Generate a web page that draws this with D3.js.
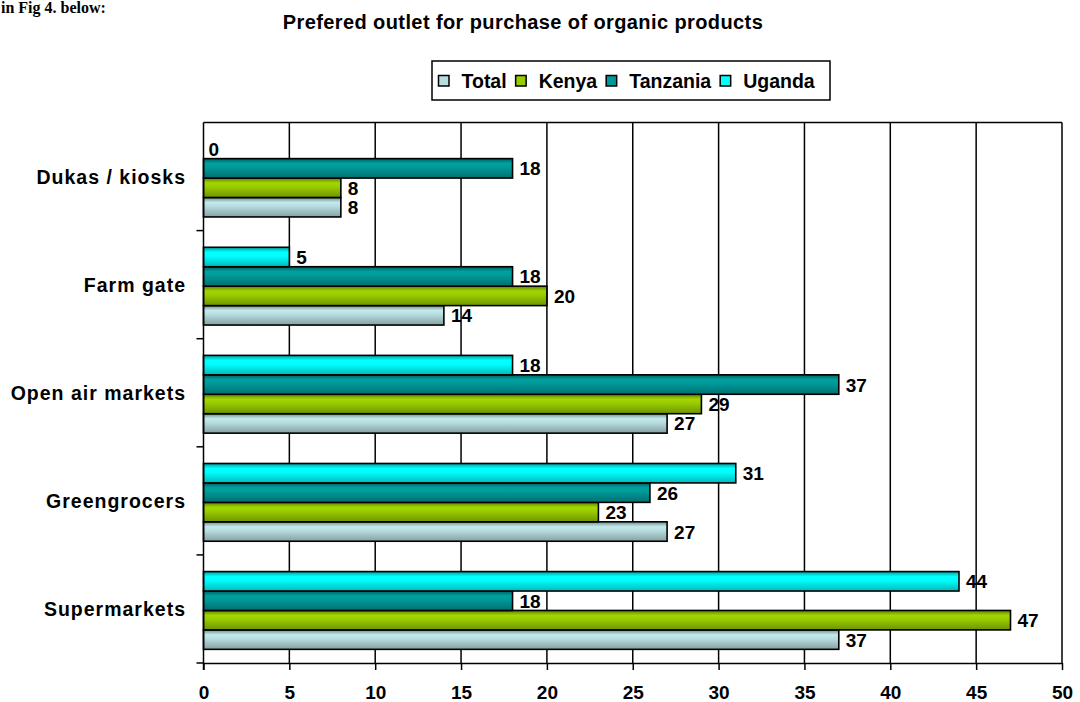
<!DOCTYPE html>
<html>
<head>
<meta charset="utf-8">
<script src="https://cdn.jsdelivr.net/npm/d3@7/dist/d3.min.js"></script>
<style>
  html, body { margin: 0; padding: 0; background: #fff; }
  svg { display: block; font-family: "Liberation Sans", Arial, sans-serif; }
</style>
</head>
<body>
<svg id="chart" width="1080" height="702"></svg>
<script>
// Outlets, listed top to bottom
const categories = ["Dukas / kiosks", "Farm gate", "Open air markets", "Greengrocers", "Supermarkets"];
// Series in legend order
const seriesNames = ["Total", "Kenya", "Tanzania", "Uganda"];
const seriesColors = ["#b8dde0", "#99cc00", "#009999", "#00ffff"];
// Percentages per outlet, one array per series
const totalValues    = [8, 14, 27, 27, 37];
const kenyaValues    = [8, 20, 29, 23, 47];
const tanzaniaValues = [18, 18, 37, 26, 18];
const ugandaValues   = [0, 5, 18, 31, 44];
const xTicks = [0, 5, 10, 15, 20, 25, 30, 35, 40, 45, 50];

const seriesValues = [totalValues, kenyaValues, tanzaniaValues, ugandaValues];
const titleText = "Prefered outlet for purchase of organic products";

const svg = d3.select("#chart");

// End of the preceding paragraph line
svg.append("text")
  .attr("x", 1).attr("y", 13)
  .attr("font-family", "'Liberation Serif', 'Times New Roman', serif")
  .attr("font-weight", "bold").attr("font-size", 16)
  .text("in Fig 4. below:");

const plot = { left: 203.5, right: 1062, top: 122.5, bottom: 663 };

const x = d3.scaleLinear().domain([0, 50]).range([plot.left, plot.right]);
const y = d3.scaleBand().domain(categories).range([plot.top, plot.bottom]).padding(0);
// Within a band, the top bar is Uganda and the bottom one is Total
const inner = d3.scaleBand()
  .domain(seriesNames.slice().reverse())
  .range([0, y.bandwidth()])
  .paddingInner(0).paddingOuter(0.78).align(0.55);

// Cylinder-like shading for each series
const defs = svg.append("defs");
seriesNames.forEach((name, i) => {
  const base = d3.color(seriesColors[i]);
  const g = defs.append("linearGradient")
    .attr("id", "grad-" + i).attr("x1", 0).attr("x2", 0).attr("y1", 0).attr("y2", 1);
  g.append("stop").attr("offset", "0%").attr("stop-color", base.darker(1.3));
  g.append("stop").attr("offset", "25%").attr("stop-color", base.brighter(0.15));
  g.append("stop").attr("offset", "45%").attr("stop-color", base);
  g.append("stop").attr("offset", "100%").attr("stop-color", base.darker(0.9));
});

// Vertical gridlines
svg.append("g").selectAll("line")
  .data(xTicks.filter(t => t > 0))
  .join("line")
  .attr("x1", d => x(d)).attr("x2", d => x(d))
  .attr("y1", plot.top).attr("y2", plot.bottom)
  .attr("stroke", "#000").attr("stroke-width", 1.5);

// Top border of the plot area
svg.append("line")
  .attr("x1", plot.left).attr("x2", plot.right)
  .attr("y1", plot.top).attr("y2", plot.top)
  .attr("stroke", "#000").attr("stroke-width", 1.5);

// Bars
const rows = [];
categories.forEach((c, ci) => {
  seriesNames.forEach((s, si) => {
    rows.push({ cat: c, series: s, si: si, value: seriesValues[si][ci] });
  });
});

const barG = svg.append("g");
barG.selectAll("rect")
  .data(rows.filter(d => d.value > 0))
  .join("rect")
  .attr("x", x(0))
  .attr("y", d => y(d.cat) + inner(d.series))
  .attr("width", d => x(d.value) - x(0))
  .attr("height", inner.bandwidth())
  .attr("fill", d => `url(#grad-${d.si})`)
  .attr("stroke", "#000").attr("stroke-width", 1.6);

// Value labels
barG.selectAll("text")
  .data(rows)
  .join("text")
  .attr("x", d => x(d.value) + (d.value > 0 ? 7 : 5))
  .attr("y", d => y(d.cat) + inner(d.series) + inner.bandwidth() / 2 + 7)
  .attr("font-size", 19).attr("font-weight", "bold")
  .text(d => d.value);

// X axis
const xAxis = svg.append("g")
  .attr("transform", `translate(0,${plot.bottom})`)
  .call(d3.axisBottom(x).tickValues(xTicks).tickSize(7).tickSizeOuter(0));
xAxis.select(".domain").attr("stroke", "#000").attr("stroke-width", 1.5);
xAxis.selectAll(".tick line").attr("stroke", "#000").attr("stroke-width", 1.5);
xAxis.selectAll(".tick text")
  .attr("y", 36).attr("dy", 0)
  .attr("font-size", 19).attr("font-weight", "bold")
  .attr("font-family", "'Liberation Sans', Arial, sans-serif")
  .attr("fill", "#000");

// Y axis: ticks sit on the boundaries between outlets
const boundaries = d3.range(categories.length + 1).map(i => plot.top + i * y.step());
const yAxis = svg.append("g");
yAxis.append("line")
  .attr("x1", plot.left).attr("x2", plot.left)
  .attr("y1", plot.top).attr("y2", plot.bottom + 7)
  .attr("stroke", "#000").attr("stroke-width", 1.5);
yAxis.selectAll("line.tk")
  .data(boundaries.slice(1))
  .join("line").attr("class", "tk")
  .attr("x1", plot.left - 7).attr("x2", plot.left)
  .attr("y1", d => d).attr("y2", d => d)
  .attr("stroke", "#000").attr("stroke-width", 1.5);
yAxis.selectAll("text")
  .data(categories)
  .join("text")
  .attr("x", 186).attr("y", d => y(d) + y.bandwidth() / 2 + 7)
  .attr("text-anchor", "end")
  .attr("font-size", 19.5).attr("font-weight", "bold")
  .attr("letter-spacing", 1)
  .text(d => d);

// Title
svg.append("text")
  .attr("x", 523).attr("y", 29)
  .attr("text-anchor", "middle")
  .attr("font-size", 20).attr("font-weight", "bold")
  .attr("letter-spacing", 0.4)
  .text(titleText);

// Legend
const legend = svg.append("g");
legend.append("rect")
  .attr("x", 432).attr("y", 61).attr("width", 398).attr("height", 39)
  .attr("fill", "#fff").attr("stroke", "#000").attr("stroke-width", 1.5);
let lx = 438.5;
seriesNames.forEach((name, i) => {
  legend.append("rect")
    .attr("x", lx).attr("y", 75.5).attr("width", 10.5).attr("height", 10.5)
    .attr("fill", seriesColors[i]).attr("stroke", "#000").attr("stroke-width", 1.5);
  const t = legend.append("text")
    .attr("x", lx + 23).attr("y", 88)
    .attr("font-size", 19.5).attr("font-weight", "bold")
    .text(name);
  lx = lx + 23 + t.node().getComputedTextLength() + 9;
});
</script>
</body>
</html>
